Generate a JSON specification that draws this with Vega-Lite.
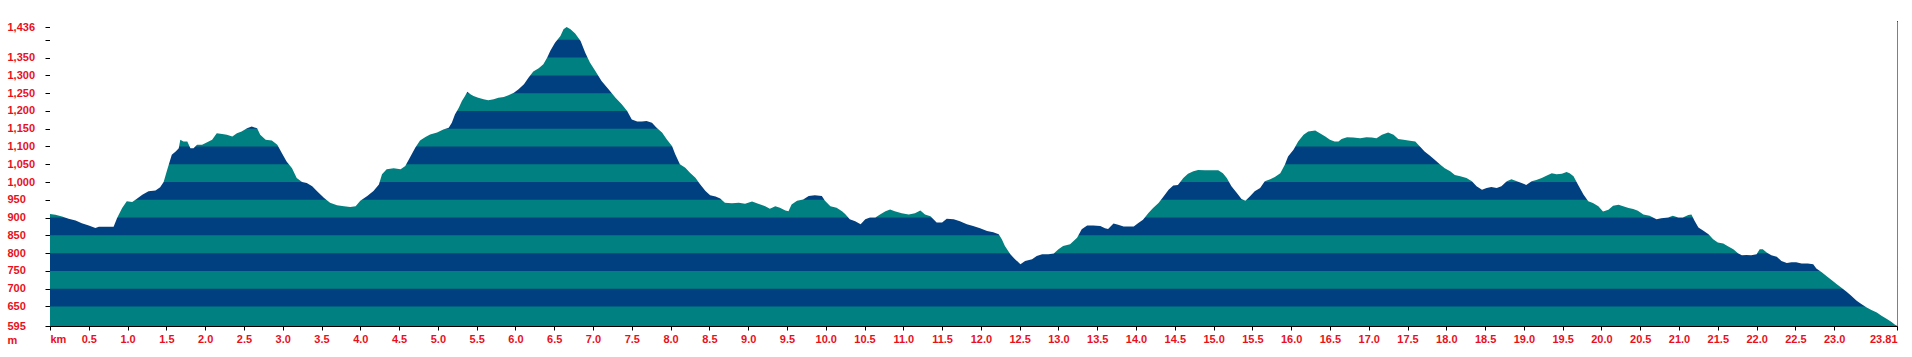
{
  "$schema": "https://vega.github.io/schema/vega-lite/v6.json",
  "width": 1847,
  "height": 305,
  "autosize": {"type": "none"},
  "padding": {"left": 50, "top": 21, "right": 15, "bottom": 31},
  "background": "white",
  "config": {
    "view": {"stroke": null},
    "axis": {
      "labelColor": "#e8101c",
      "labelFont": "Liberation Sans",
      "labelFontSize": 11,
      "labelFontWeight": "bold",
      "titleColor": "#e8101c",
      "titleFont": "Liberation Sans",
      "titleFontSize": 11,
      "titleFontWeight": "bold",
      "domainColor": "black",
      "domainWidth": 1,
      "tickColor": "black",
      "grid": false,
      "zindex": 1,
      "labelOverlap": false,
      "labelFlush": false
    }
  },
  "datasets": {
    "bands": [
      {"lo": 595, "hi": 650, "band": "teal"},
      {"lo": 650, "hi": 700, "band": "blue"},
      {"lo": 700, "hi": 750, "band": "teal"},
      {"lo": 750, "hi": 800, "band": "blue"},
      {"lo": 800, "hi": 850, "band": "teal"},
      {"lo": 850, "hi": 900, "band": "blue"},
      {"lo": 900, "hi": 950, "band": "teal"},
      {"lo": 950, "hi": 1000, "band": "blue"},
      {"lo": 1000, "hi": 1050, "band": "teal"},
      {"lo": 1050, "hi": 1100, "band": "blue"},
      {"lo": 1100, "hi": 1150, "band": "teal"},
      {"lo": 1150, "hi": 1200, "band": "blue"},
      {"lo": 1200, "hi": 1250, "band": "teal"},
      {"lo": 1250, "hi": 1300, "band": "blue"},
      {"lo": 1300, "hi": 1350, "band": "teal"},
      {"lo": 1350, "hi": 1400, "band": "blue"},
      {"lo": 1400, "hi": 1453, "band": "teal"}
    ],
    "profile": [
      {"km": 0.0, "elev": 910}, {"km": 0.07, "elev": 908}, {"km": 0.155, "elev": 903}, {"km": 0.24, "elev": 897},
      {"km": 0.33, "elev": 892}, {"km": 0.41, "elev": 884}, {"km": 0.5, "elev": 878}, {"km": 0.585, "elev": 871},
      {"km": 0.63, "elev": 874}, {"km": 0.76, "elev": 874}, {"km": 0.82, "elev": 874}, {"km": 0.865, "elev": 899},
      {"km": 0.93, "elev": 927}, {"km": 0.99, "elev": 946}, {"km": 1.06, "elev": 944}, {"km": 1.12, "elev": 953},
      {"km": 1.19, "elev": 964}, {"km": 1.27, "elev": 974}, {"km": 1.36, "elev": 976}, {"km": 1.42, "elev": 985},
      {"km": 1.465, "elev": 1000}, {"km": 1.51, "elev": 1034}, {"km": 1.57, "elev": 1077}, {"km": 1.62, "elev": 1086},
      {"km": 1.66, "elev": 1095}, {"km": 1.68, "elev": 1119}, {"km": 1.72, "elev": 1114}, {"km": 1.77, "elev": 1114},
      {"km": 1.81, "elev": 1095}, {"km": 1.85, "elev": 1095}, {"km": 1.895, "elev": 1105}, {"km": 1.96, "elev": 1105},
      {"km": 2.0, "elev": 1109}, {"km": 2.09, "elev": 1119}, {"km": 2.15, "elev": 1137}, {"km": 2.22, "elev": 1135},
      {"km": 2.28, "elev": 1133}, {"km": 2.35, "elev": 1128}, {"km": 2.41, "elev": 1137}, {"km": 2.47, "elev": 1142},
      {"km": 2.54, "elev": 1151}, {"km": 2.6, "elev": 1156}, {"km": 2.67, "elev": 1151}, {"km": 2.71, "elev": 1133},
      {"km": 2.78, "elev": 1119}, {"km": 2.86, "elev": 1117}, {"km": 2.93, "elev": 1105}, {"km": 2.99, "elev": 1081},
      {"km": 3.05, "elev": 1058}, {"km": 3.12, "elev": 1039}, {"km": 3.18, "elev": 1011}, {"km": 3.25, "elev": 1000},
      {"km": 3.31, "elev": 997}, {"km": 3.38, "elev": 988}, {"km": 3.44, "elev": 975}, {"km": 3.53, "elev": 956},
      {"km": 3.61, "elev": 942}, {"km": 3.7, "elev": 935}, {"km": 3.79, "elev": 932}, {"km": 3.87, "elev": 930},
      {"km": 3.94, "elev": 932}, {"km": 4.0, "elev": 947}, {"km": 4.09, "elev": 961}, {"km": 4.17, "elev": 975},
      {"km": 4.24, "elev": 993}, {"km": 4.28, "elev": 1022}, {"km": 4.34, "elev": 1036}, {"km": 4.43, "elev": 1039},
      {"km": 4.52, "elev": 1036}, {"km": 4.58, "elev": 1045}, {"km": 4.64, "elev": 1069}, {"km": 4.71, "elev": 1097},
      {"km": 4.77, "elev": 1117}, {"km": 4.84, "elev": 1127}, {"km": 4.9, "elev": 1134}, {"km": 4.99, "elev": 1139},
      {"km": 5.07, "elev": 1148}, {"km": 5.14, "elev": 1153}, {"km": 5.18, "elev": 1167}, {"km": 5.22, "elev": 1190},
      {"km": 5.27, "elev": 1209}, {"km": 5.31, "elev": 1228}, {"km": 5.35, "elev": 1242}, {"km": 5.38, "elev": 1254},
      {"km": 5.42, "elev": 1247}, {"km": 5.46, "elev": 1242}, {"km": 5.52, "elev": 1237}, {"km": 5.59, "elev": 1233},
      {"km": 5.65, "elev": 1230}, {"km": 5.72, "elev": 1233}, {"km": 5.78, "elev": 1237}, {"km": 5.85, "elev": 1239},
      {"km": 5.91, "elev": 1244}, {"km": 5.98, "elev": 1251}, {"km": 6.04, "elev": 1261}, {"km": 6.11, "elev": 1275},
      {"km": 6.17, "elev": 1294}, {"km": 6.23, "elev": 1311}, {"km": 6.3, "elev": 1320}, {"km": 6.36, "elev": 1331},
      {"km": 6.41, "elev": 1350}, {"km": 6.45, "elev": 1369}, {"km": 6.51, "elev": 1392}, {"km": 6.58, "elev": 1411},
      {"km": 6.62, "elev": 1430}, {"km": 6.66, "elev": 1436}, {"km": 6.71, "elev": 1430}, {"km": 6.77, "elev": 1418},
      {"km": 6.84, "elev": 1397}, {"km": 6.9, "elev": 1364}, {"km": 6.96, "elev": 1336}, {"km": 7.03, "elev": 1312},
      {"km": 7.11, "elev": 1284}, {"km": 7.2, "elev": 1261}, {"km": 7.29, "elev": 1237}, {"km": 7.37, "elev": 1219},
      {"km": 7.44, "elev": 1200}, {"km": 7.5, "elev": 1176}, {"km": 7.57, "elev": 1170}, {"km": 7.63, "elev": 1170},
      {"km": 7.69, "elev": 1172}, {"km": 7.76, "elev": 1167}, {"km": 7.82, "elev": 1153}, {"km": 7.89, "elev": 1139},
      {"km": 7.95, "elev": 1120}, {"km": 8.02, "elev": 1101}, {"km": 8.06, "elev": 1078}, {"km": 8.12, "elev": 1050},
      {"km": 8.19, "elev": 1040}, {"km": 8.25, "elev": 1026}, {"km": 8.32, "elev": 1012}, {"km": 8.38, "elev": 994},
      {"km": 8.45, "elev": 975}, {"km": 8.51, "elev": 963}, {"km": 8.58, "elev": 959}, {"km": 8.64, "elev": 954},
      {"km": 8.7, "elev": 942}, {"km": 8.79, "elev": 940}, {"km": 8.88, "elev": 942}, {"km": 8.96, "elev": 939},
      {"km": 9.05, "elev": 945}, {"km": 9.13, "elev": 939}, {"km": 9.22, "elev": 932}, {"km": 9.28, "elev": 925},
      {"km": 9.35, "elev": 932}, {"km": 9.41, "elev": 928}, {"km": 9.48, "elev": 920}, {"km": 9.52, "elev": 918},
      {"km": 9.56, "elev": 937}, {"km": 9.63, "elev": 947}, {"km": 9.71, "elev": 951}, {"km": 9.78, "elev": 961},
      {"km": 9.86, "elev": 963}, {"km": 9.95, "elev": 961}, {"km": 9.99, "elev": 947}, {"km": 10.06, "elev": 932},
      {"km": 10.14, "elev": 928}, {"km": 10.21, "elev": 918}, {"km": 10.25, "elev": 910}, {"km": 10.31, "elev": 895},
      {"km": 10.38, "elev": 890}, {"km": 10.45, "elev": 881}, {"km": 10.51, "elev": 895}, {"km": 10.57, "elev": 900},
      {"km": 10.64, "elev": 900}, {"km": 10.7, "elev": 909}, {"km": 10.77, "elev": 918}, {"km": 10.83, "elev": 923},
      {"km": 10.89, "elev": 918}, {"km": 10.98, "elev": 912}, {"km": 11.07, "elev": 909}, {"km": 11.15, "elev": 912},
      {"km": 11.22, "elev": 920}, {"km": 11.28, "elev": 909}, {"km": 11.35, "elev": 904}, {"km": 11.43, "elev": 886},
      {"km": 11.5, "elev": 886}, {"km": 11.56, "elev": 897}, {"km": 11.65, "elev": 895}, {"km": 11.73, "elev": 890},
      {"km": 11.82, "elev": 881}, {"km": 11.9, "elev": 876}, {"km": 11.99, "elev": 870}, {"km": 12.08, "elev": 862},
      {"km": 12.16, "elev": 859}, {"km": 12.23, "elev": 853}, {"km": 12.27, "elev": 839}, {"km": 12.31, "elev": 820},
      {"km": 12.38, "elev": 797}, {"km": 12.44, "elev": 783}, {"km": 12.51, "elev": 769}, {"km": 12.57, "elev": 778},
      {"km": 12.66, "elev": 783}, {"km": 12.72, "elev": 792}, {"km": 12.79, "elev": 797}, {"km": 12.87, "elev": 797},
      {"km": 12.94, "elev": 799}, {"km": 13.0, "elev": 811}, {"km": 13.06, "elev": 820}, {"km": 13.15, "elev": 825},
      {"km": 13.24, "elev": 843}, {"km": 13.3, "elev": 867}, {"km": 13.37, "elev": 878}, {"km": 13.45, "elev": 878},
      {"km": 13.54, "elev": 876}, {"km": 13.6, "elev": 870}, {"km": 13.64, "elev": 868}, {"km": 13.71, "elev": 883},
      {"km": 13.77, "elev": 880}, {"km": 13.84, "elev": 875}, {"km": 13.97, "elev": 875}, {"km": 14.03, "elev": 885},
      {"km": 14.09, "elev": 894}, {"km": 14.16, "elev": 913}, {"km": 14.22, "elev": 927}, {"km": 14.29, "elev": 941},
      {"km": 14.35, "elev": 958}, {"km": 14.42, "elev": 978}, {"km": 14.48, "elev": 990}, {"km": 14.54, "elev": 992},
      {"km": 14.61, "elev": 1011}, {"km": 14.67, "elev": 1023}, {"km": 14.74, "elev": 1030}, {"km": 14.8, "elev": 1034},
      {"km": 14.89, "elev": 1033}, {"km": 14.97, "elev": 1033}, {"km": 15.06, "elev": 1033}, {"km": 15.12, "elev": 1025},
      {"km": 15.17, "elev": 1011}, {"km": 15.23, "elev": 988}, {"km": 15.3, "elev": 969}, {"km": 15.36, "elev": 952},
      {"km": 15.41, "elev": 947}, {"km": 15.47, "elev": 960}, {"km": 15.53, "elev": 974}, {"km": 15.6, "elev": 983},
      {"km": 15.66, "elev": 1002}, {"km": 15.73, "elev": 1008}, {"km": 15.79, "elev": 1014}, {"km": 15.86, "elev": 1025},
      {"km": 15.92, "elev": 1049}, {"km": 15.96, "elev": 1072}, {"km": 16.03, "elev": 1091}, {"km": 16.09, "elev": 1114},
      {"km": 16.16, "elev": 1133}, {"km": 16.22, "elev": 1142}, {"km": 16.31, "elev": 1145}, {"km": 16.37, "elev": 1137},
      {"km": 16.44, "elev": 1128}, {"km": 16.5, "elev": 1119}, {"km": 16.56, "elev": 1114}, {"km": 16.61, "elev": 1114},
      {"km": 16.65, "elev": 1121}, {"km": 16.72, "elev": 1126}, {"km": 16.8, "elev": 1125}, {"km": 16.89, "elev": 1123},
      {"km": 16.97, "elev": 1126}, {"km": 17.04, "elev": 1125}, {"km": 17.1, "elev": 1123}, {"km": 17.17, "elev": 1133},
      {"km": 17.25, "elev": 1139}, {"km": 17.32, "elev": 1133}, {"km": 17.38, "elev": 1121}, {"km": 17.45, "elev": 1119},
      {"km": 17.51, "elev": 1117}, {"km": 17.6, "elev": 1114}, {"km": 17.66, "elev": 1100}, {"km": 17.72, "elev": 1086},
      {"km": 17.79, "elev": 1074}, {"km": 17.85, "elev": 1063}, {"km": 17.92, "elev": 1049}, {"km": 17.98, "elev": 1039},
      {"km": 18.05, "elev": 1030}, {"km": 18.11, "elev": 1020}, {"km": 18.18, "elev": 1016}, {"km": 18.26, "elev": 1011},
      {"km": 18.33, "elev": 1002}, {"km": 18.39, "elev": 988}, {"km": 18.46, "elev": 978}, {"km": 18.52, "elev": 983},
      {"km": 18.58, "elev": 986}, {"km": 18.65, "elev": 983}, {"km": 18.71, "elev": 988}, {"km": 18.78, "elev": 1002},
      {"km": 18.84, "elev": 1008}, {"km": 18.91, "elev": 1002}, {"km": 18.97, "elev": 997}, {"km": 19.03, "elev": 992},
      {"km": 19.1, "elev": 1002}, {"km": 19.16, "elev": 1006}, {"km": 19.23, "elev": 1011}, {"km": 19.29, "elev": 1018},
      {"km": 19.36, "elev": 1025}, {"km": 19.42, "elev": 1022}, {"km": 19.49, "elev": 1023}, {"km": 19.55, "elev": 1028},
      {"km": 19.59, "elev": 1025}, {"km": 19.64, "elev": 1016}, {"km": 19.7, "elev": 992}, {"km": 19.77, "elev": 964},
      {"km": 19.83, "elev": 946}, {"km": 19.89, "elev": 941}, {"km": 19.96, "elev": 932}, {"km": 20.02, "elev": 917},
      {"km": 20.09, "elev": 922}, {"km": 20.15, "elev": 933}, {"km": 20.22, "elev": 936}, {"km": 20.28, "elev": 932},
      {"km": 20.35, "elev": 927}, {"km": 20.41, "elev": 924}, {"km": 20.47, "elev": 919}, {"km": 20.54, "elev": 909},
      {"km": 20.62, "elev": 905}, {"km": 20.71, "elev": 895}, {"km": 20.77, "elev": 898}, {"km": 20.86, "elev": 900},
      {"km": 20.92, "elev": 905}, {"km": 20.99, "elev": 900}, {"km": 21.05, "elev": 900}, {"km": 21.12, "elev": 907},
      {"km": 21.16, "elev": 909}, {"km": 21.2, "elev": 891}, {"km": 21.25, "elev": 872}, {"km": 21.31, "elev": 864},
      {"km": 21.38, "elev": 853}, {"km": 21.44, "elev": 839}, {"km": 21.5, "elev": 830}, {"km": 21.57, "elev": 827},
      {"km": 21.63, "elev": 819}, {"km": 21.7, "elev": 811}, {"km": 21.76, "elev": 800}, {"km": 21.81, "elev": 794},
      {"km": 21.87, "elev": 795}, {"km": 21.93, "elev": 794}, {"km": 22.0, "elev": 797}, {"km": 22.04, "elev": 811},
      {"km": 22.08, "elev": 811}, {"km": 22.13, "elev": 802}, {"km": 22.19, "elev": 794}, {"km": 22.26, "elev": 790},
      {"km": 22.32, "elev": 778}, {"km": 22.39, "elev": 772}, {"km": 22.45, "elev": 774}, {"km": 22.51, "elev": 774},
      {"km": 22.58, "elev": 771}, {"km": 22.66, "elev": 771}, {"km": 22.73, "elev": 769}, {"km": 22.77, "elev": 757},
      {"km": 22.84, "elev": 746}, {"km": 22.9, "elev": 736}, {"km": 22.97, "elev": 724}, {"km": 23.03, "elev": 713},
      {"km": 23.09, "elev": 703}, {"km": 23.16, "elev": 691}, {"km": 23.22, "elev": 680}, {"km": 23.29, "elev": 666},
      {"km": 23.35, "elev": 657}, {"km": 23.42, "elev": 647}, {"km": 23.48, "elev": 640}, {"km": 23.55, "elev": 633},
      {"km": 23.61, "elev": 624}, {"km": 23.68, "elev": 615}, {"km": 23.74, "elev": 606}, {"km": 23.78, "elev": 599},
      {"km": 23.81, "elev": 596}
    ]
  },
  "layer": [
    {
      "data": {"name": "bands"},
      "mark": {"type": "rect"},
      "encoding": {
        "y": {
          "field": "lo", "type": "quantitative",
          "scale": {"domain": [595, 1453], "nice": false, "zero": false},
          "axis": {
            "orient": "left",
            "values": [595, 650, 700, 750, 800, 850, 900, 950, 1000, 1050, 1100, 1150, 1200, 1250, 1300, 1350, 1400, 1436],
            "labelExpr": "datum.value == 1400 ? '' : format(datum.value, ',d')",
            "tickSize": 5,
            "labelAlign": "left",
            "labelBaseline": "middle",
            "labelPadding": 38,
            "title": "m",
            "titleAngle": 0,
            "titleAlign": "left",
            "titleBaseline": "middle",
            "titleX": -43,
            "titleY": 319
          }
        },
        "y2": {"datum": 1453},
        "color": {
          "field": "band", "type": "nominal",
          "scale": {"domain": ["teal", "blue"], "range": ["#008080", "#004080"]},
          "legend": null
        }
      }
    },
    {
      "data": {"name": "profile"},
      "mark": {"type": "area", "color": "white", "interpolate": "linear"},
      "encoding": {
        "x": {
          "field": "km", "type": "quantitative",
          "scale": {"domain": [0, 23.81], "nice": false, "zero": false},
          "axis": {
            "orient": "bottom",
            "values": [0, 0.5, 1, 1.5, 2, 2.5, 3, 3.5, 4, 4.5, 5, 5.5, 6, 6.5, 7, 7.5, 8, 8.5, 9, 9.5, 10, 10.5, 11, 11.5, 12, 12.5, 13, 13.5, 14, 14.5, 15, 15.5, 16, 16.5, 17, 17.5, 18, 18.5, 19, 19.5, 20, 20.5, 21, 21.5, 22, 22.5, 23, 23.81],
            "labelExpr": "datum.value == 0 ? 'km' : (datum.value == 23.81 ? '23.81' : format(datum.value, '.1f'))",
            "labelAlign": {"condition": [{"test": "datum.value == 0", "value": "left"}, {"test": "datum.value == 23.81", "value": "right"}], "value": "center"},
            "tickSize": 4,
            "labelPadding": 3,
            "labelBaseline": "top",
            "title": null
          }
        },
        "y": {
          "field": "elev", "type": "quantitative",
          "axis": {"orient": "right", "labels": false, "ticks": false, "title": null, "domainDash": [1, 1], "domainColor": "black"}
        },
        "y2": {"datum": 1453}
      }
    },
    {
      "data": {"name": "profile"},
      "mark": {"type": "point", "opacity": 0},
      "encoding": {
        "x": {
          "field": "km", "type": "quantitative",
          "axis": {"orient": "top", "labels": false, "ticks": false, "title": null, "domainColor": "black"}
        },
        "y": {"field": "elev", "type": "quantitative", "axis": null}
      }
    }
  ],
  "resolve": {"axis": {"x": "independent", "y": "independent"}}
}
